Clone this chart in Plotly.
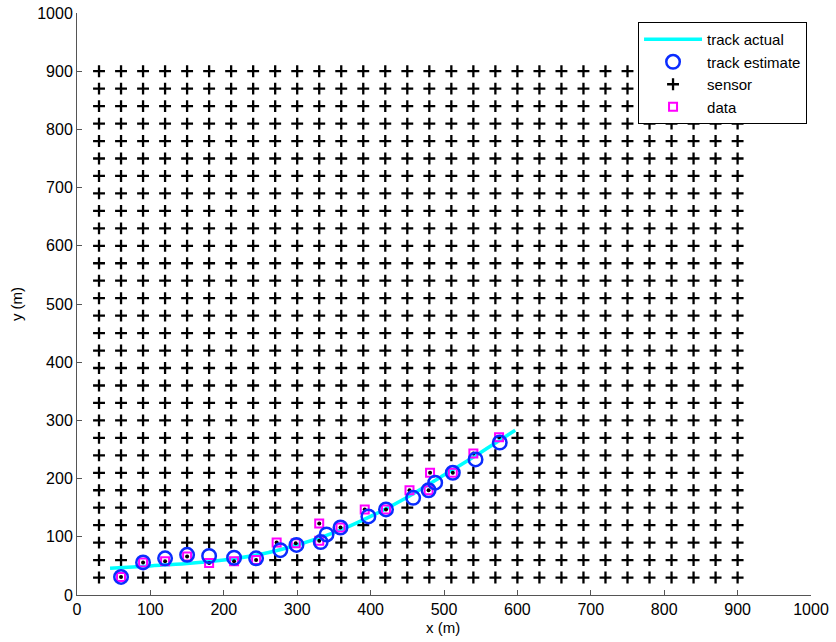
import plotly.graph_objects as go

# ---- data ----
SENSOR_COLS = [30, 60, 90, 120, 150, 180, 210, 240, 270, 300, 330, 360, 390, 420, 450,
               480, 510, 540, 570, 600, 630, 660, 690, 720, 750, 780, 810, 840, 870, 900]
SENSOR_ROWS = [30, 60, 90, 120, 150, 180, 210, 240, 270, 300, 330, 360, 390, 420, 450,
               480, 510, 540, 570, 600, 630, 660, 690, 720, 750, 780, 810, 840, 870, 900]

TRACK_X = [45, 100, 150, 200, 250, 300, 350, 400, 450, 500, 550, 597]
TRACK_Y = [46, 50, 54, 60, 70, 86, 107, 135, 168, 206, 245, 283]

EST_X = [60, 90, 120, 150, 180, 214, 244, 277, 299, 332, 340, 359, 397, 421, 458, 479, 488, 512, 543, 576]
EST_Y = [31, 56, 63, 69, 67, 64, 63, 77, 86, 91, 104, 116, 135, 147, 167, 180, 193, 210, 233, 262]

DATA_X = [60, 90, 120, 150, 180, 214, 244, 272, 298, 330, 330, 359, 392, 421, 453, 479, 481, 512, 540, 575]
DATA_Y = [31, 56, 58, 66, 55, 58, 60, 90, 89, 93, 123, 116, 147, 147, 180, 180, 210, 210, 243, 271]

X_TICKS = [0, 100, 200, 300, 400, 500, 600, 700, 800, 900, 1000]
Y_TICKS = [0, 100, 200, 300, 400, 500, 600, 700, 800, 900, 1000]

# sensors that reported data are shown by the data markers instead of a '+'
grid_step = SENSOR_COLS[1] - SENSOR_COLS[0]
active = {(round(x / grid_step) * grid_step, round(y / grid_step) * grid_step)
          for x, y in zip(DATA_X, DATA_Y)}
sx, sy = [], []
for yv in SENSOR_ROWS:
    for xv in SENSOR_COLS:
        if (xv, yv) not in active:
            sx.append(xv)
            sy.append(yv)

FONT = "Liberation Sans, Arial, Helvetica, sans-serif"

fig = go.Figure()
fig.add_trace(go.Scatter(
    x=sx, y=sy, mode="markers", name="sensor", legendrank=3,
    marker=dict(symbol="cross-thin", size=8.5, color="black",
                line=dict(color="black", width=2.3)),
))
fig.add_trace(go.Scatter(
    x=TRACK_X, y=TRACK_Y, mode="lines", name="track actual", legendrank=1,
    line=dict(color="#00ffff", width=3.5, shape="spline"),
))
fig.add_trace(go.Scatter(
    x=DATA_X, y=DATA_Y, mode="markers", name="data", legendrank=4,
    marker=dict(symbol="square-open", size=8, color="#ff00ff",
                line=dict(color="#ff00ff", width=2)),
))
fig.add_trace(go.Scatter(
    x=DATA_X, y=DATA_Y, mode="markers", showlegend=False,
    marker=dict(symbol="circle", size=4, color="black"),
))
fig.add_trace(go.Scatter(
    x=EST_X, y=EST_Y, mode="markers", name="track estimate", legendrank=2,
    marker=dict(symbol="circle-open", size=13.5, color="#0a2cff",
                line=dict(color="#0a2cff", width=2.5)),
))

axis_common = dict(
    range=[0, 1000], showgrid=False, zeroline=False,
    showline=True, linecolor="#555555", linewidth=1,
    ticks="inside", ticklen=5, tickcolor="#555555",
    tickfont=dict(family=FONT, size=16, color="black"),
    mirror=False, automargin=False, ticklabeloverflow="allow",
)
fig.update_xaxes(**axis_common, tickvals=X_TICKS)
fig.update_yaxes(**axis_common, tickvals=Y_TICKS)

fig.update_layout(
    width=836, height=642,
    margin=dict(l=77, r=25, t=13, b=47),
    plot_bgcolor="white", paper_bgcolor="white",
    font=dict(family=FONT, size=15, color="black"),
    legend=dict(
        x=0.9946, y=0.9845, xanchor="right", yanchor="top",
        bgcolor="white", bordercolor="black", borderwidth=1,
        font=dict(family=FONT, size=15, color="black"),
        tracegroupgap=0, itemwidth=58,
    ),
    annotations=[
        dict(text="x (m)", xref="paper", yref="paper", x=0.4986, y=-0.055,
             xanchor="center", yanchor="middle", showarrow=False,
             font=dict(family=FONT, size=15, color="black")),
        dict(text="y (m)", xref="paper", yref="paper", x=-0.083, y=0.5,
             xanchor="center", yanchor="middle", showarrow=False, textangle=-90,
             font=dict(family=FONT, size=15, color="black")),
    ],
)

fig.write_html(
    "out.html",
    config={"displayModeBar": False},
    post_script="document.body.style.margin='0';document.body.style.overflow='hidden';",
)
